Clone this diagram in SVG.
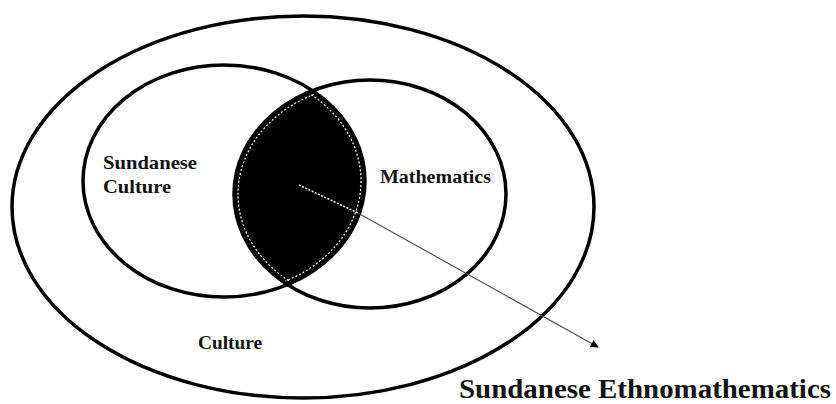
<svg xmlns="http://www.w3.org/2000/svg" width="836" height="404" viewBox="0 0 836 404">
<style>
.ring{fill:none;stroke:#000;stroke-width:3.5}
.lbl{font-family:'Liberation Serif','Times New Roman',serif;font-weight:bold;fill:#111}
.dots{fill:none;stroke:#fff;stroke-width:1.2;stroke-dasharray:2 2}
</style>
<defs>
<clipPath id="cL"><ellipse cx="224" cy="181" rx="141" ry="116"/></clipPath>
<clipPath id="cR"><ellipse cx="370" cy="194" rx="136" ry="114"/></clipPath>
<marker id="ah" viewBox="0 0 10 10" refX="9" refY="5" markerWidth="9" markerHeight="8" markerUnits="userSpaceOnUse" orient="auto">
<path d="M0,0 L10,5 L0,10 z" fill="#000"/>
</marker>
</defs>
<rect width="836" height="404" fill="#fff"/>
<g id="culture">
<ellipse class="ring" cx="303" cy="207" rx="291" ry="191"/>
<text class="lbl" x="198" y="349" font-size="19" textLength="64" lengthAdjust="spacingAndGlyphs">Culture</text>
</g>
<g id="ethnomathematics">
<g clip-path="url(#cL)"><ellipse cx="370" cy="194" rx="136" ry="114" fill="#000"/></g>
<g clip-path="url(#cL)"><g clip-path="url(#cR)">
<ellipse class="dots" cx="224" cy="181" rx="137" ry="112"/>
<ellipse class="dots" cx="370" cy="194" rx="132" ry="110"/>
</g></g>
</g>
<g id="sundanese-culture">
<ellipse class="ring" cx="224" cy="181" rx="141" ry="116"/>
<text class="lbl" x="103" y="169" font-size="19" textLength="94" lengthAdjust="spacingAndGlyphs">Sundanese</text>
<text class="lbl" x="103" y="193" font-size="19" textLength="68" lengthAdjust="spacingAndGlyphs">Culture</text>
</g>
<g id="mathematics">
<ellipse class="ring" cx="370" cy="194" rx="136" ry="114"/>
<text class="lbl" x="380" y="183" font-size="19" textLength="111" lengthAdjust="spacingAndGlyphs">Mathematics</text>
</g>
<g id="connectors">
<line x1="299" y1="185" x2="358" y2="213" stroke="#fff" stroke-width="1.5" stroke-dasharray="2 1.5"/>
<line x1="358" y1="213" x2="598" y2="347" stroke="#555" stroke-width="1.2" marker-end="url(#ah)"/>
</g>
<g id="label-ethnomathematics">
<text class="lbl" x="459" y="398" font-size="27" textLength="372" lengthAdjust="spacingAndGlyphs">Sundanese Ethnomathematics</text>
</g>
</svg>
